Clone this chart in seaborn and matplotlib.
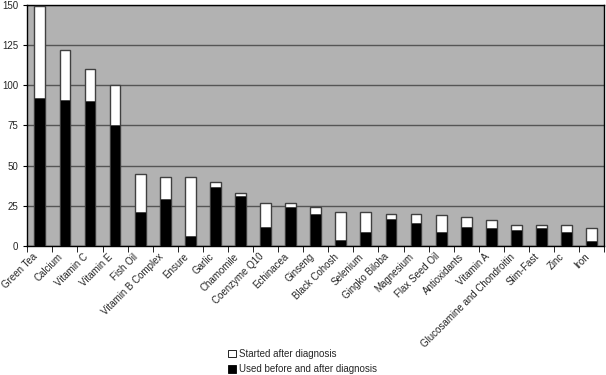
import numpy as np
import pandas as pd
import matplotlib
matplotlib.use("Agg")
import matplotlib.pyplot as plt
import seaborn as sns
from matplotlib.patches import Patch

# supplements, sorted by total use
supplements = [
    "Green Tea", "Calcium", "Vitamin C", "Vitamin E", "Fish Oil",
    "Vitamin B Complex", "Ensure", "Garlic", "Chamomile", "Coenzyme Q10",
    "Echinacea", "Ginseng", "Black Cohosh", "Selenium", "Gingko Biloba",
    "Magnesium", "Flax Seed Oil", "Antioxidants", "Vitamin A",
    "Glucosamine and Chondroitin", "Slim-Fast", "Zinc", "Iron",
]
used_before_after = [92, 91, 90, 75, 21, 29, 6, 37, 31, 12, 24, 20, 4, 9, 17,
                     14, 9, 12, 11, 10, 11, 9, 3]
started_after = [57, 31, 20, 25, 24, 14, 37, 3, 2, 15, 3, 4, 17, 12, 3,
                 6, 10, 6, 5, 3, 2, 4, 8]

df = pd.DataFrame({
    "supplement": supplements,
    "before": used_before_after,
    "after": started_after,
})
df["total"] = df["before"] + df["after"]

sns.set_style("ticks")
plt.rcParams["font.family"] = ["Liberation Sans", "DejaVu Sans"]

fig = plt.figure(figsize=(6.06, 3.75), dpi=100)
ax = fig.add_axes([0.045, 0.344, 0.952, 0.643])
ax.set_facecolor("#b2b2b2")

# stacked bars: total (white) behind, before+after (black) in front
sns.barplot(data=df, x="supplement", y="total", color="white",
            edgecolor="#404040", linewidth=1, width=0.43, ax=ax,
            saturation=1, zorder=3)
sns.barplot(data=df, x="supplement", y="before", color="black",
            edgecolor="#404040", linewidth=0.6, width=0.43, ax=ax,
            saturation=1, zorder=4)

ax.set_ylim(0, 150)
ax.set_xlim(-0.5, len(supplements) - 0.5)
ax.set_yticks(np.arange(0, 151, 25))
ax.yaxis.grid(True, color="#555555", linewidth=1)
ax.set_axisbelow(True)

ax.set_xticks(np.arange(len(supplements)))
ax.set_xticklabels(supplements, rotation=45, ha="right", fontsize=7)
ax.set_xticks(np.arange(-0.5, len(supplements)), minor=True)
ax.tick_params(axis="x", which="major", length=0, pad=4)
ax.tick_params(axis="x", which="minor", length=4, color="black")
ax.tick_params(axis="y", labelsize=7, length=3, color="black")
ax.set_xlabel("")
ax.set_ylabel("")
for s in ax.spines.values():
    s.set_color("black")
    s.set_linewidth(1)

handles = [Patch(facecolor="white", edgecolor="black", linewidth=0.6),
           Patch(facecolor="black", edgecolor="black", linewidth=0.6)]
fig.legend(handles, ["Started after diagnosis", "Used before and after diagnosis"],
           loc="lower left", bbox_to_anchor=(0.362, -0.022), frameon=False,
           fontsize=7, handlelength=0.8, handleheight=0.8,
           handletextpad=0.3, labelspacing=0.6)

fig.savefig("out.png", dpi=100)
